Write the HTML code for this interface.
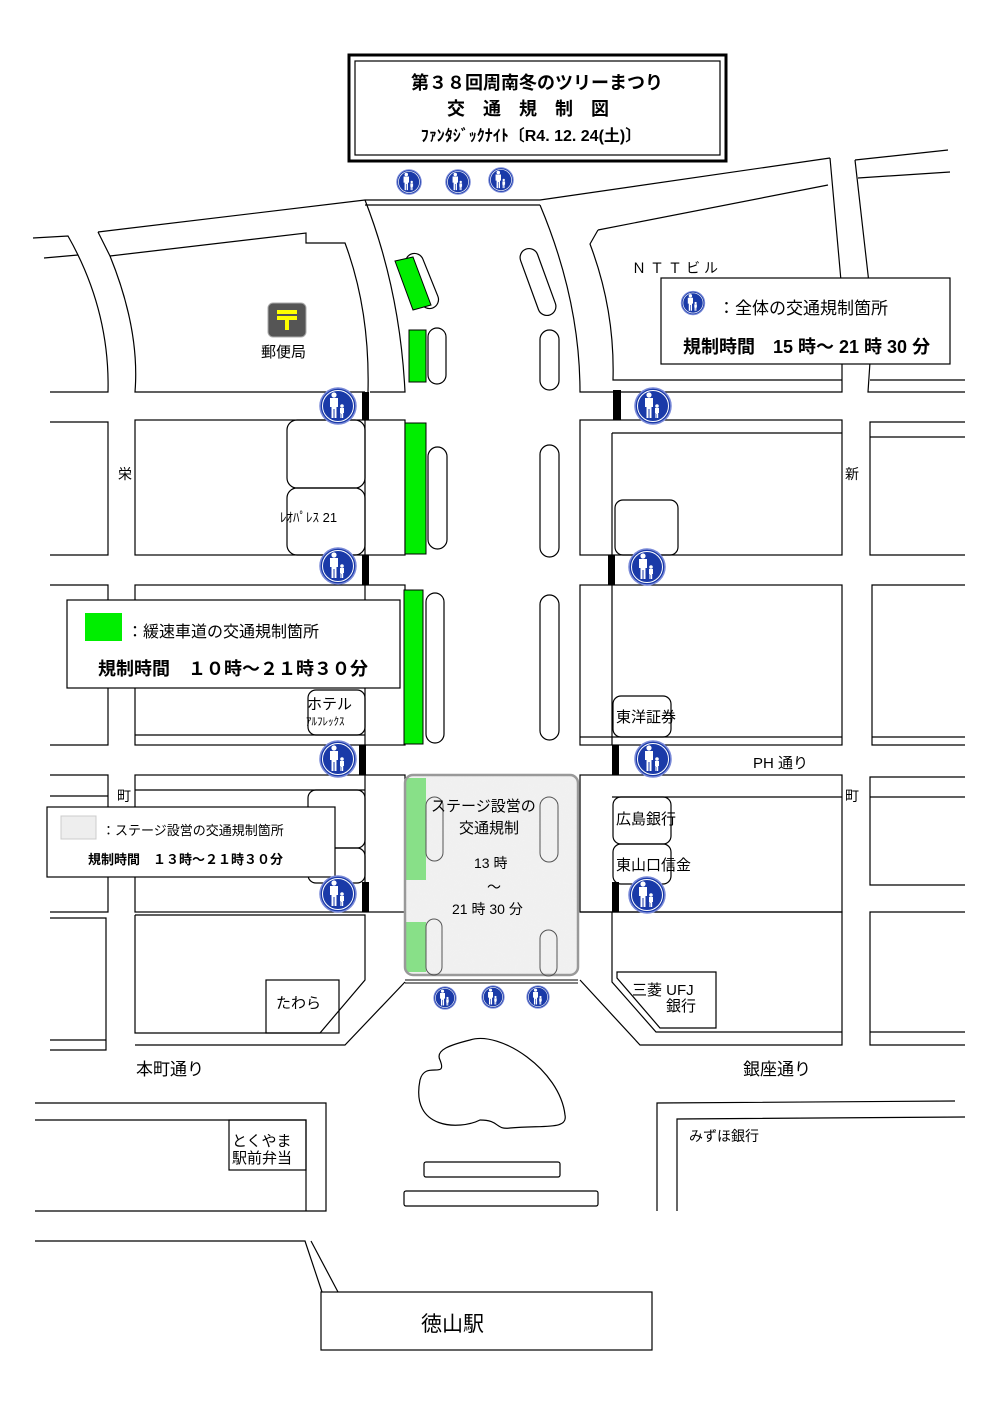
<!DOCTYPE html>
<html><head><meta charset="utf-8"><style>
html,body{margin:0;padding:0;background:#fff}
svg{display:block}
text{font-family:"Liberation Sans","Noto Sans CJK JP",sans-serif;fill:#000}
</style></head><body>
<svg width="1000" height="1415" viewBox="0 0 1000 1415" xmlns="http://www.w3.org/2000/svg">
<defs>
<g id="p">
<circle r="18" fill="#1a3aa8" stroke="#7a8ad8" stroke-width="1.5"/>
<circle r="15.5" fill="none" stroke="#fff" stroke-width="1"/>
<circle cx="-4" cy="-11" r="2.6" fill="#fff"/>
<path d="M-8,-8 h8 v9 h-1.5 v11 h-2 v-9 h-1 v9 h-2 v-11 h-1.5z" fill="#fff"/>
<circle cx="4" cy="0" r="1.8" fill="#fff"/>
<path d="M2,2 h4 v5 h-0.8 v5 h-1.2 v-4 h-0.4 v4 h-1.2 v-5 h-0.4z" fill="#fff"/>
</g>
<filter id="n" x="0" y="0" width="1" height="1"><feTurbulence baseFrequency="0.9" numOctaves="2" seed="3"/><feColorMatrix values="0 0 0 0 0.88 0 0 0 0 0.88 0 0 0 0 0.88 0 0 0 -1.2 1.2"/></filter>
<clipPath id="sc"><rect x="405" y="775" width="173" height="200" rx="8"/></clipPath>
</defs>
<g fill="none" stroke="#000" stroke-width="1.2">
<rect x="349" y="55" width="377" height="106" stroke-width="3"/>
<rect x="355" y="61" width="365" height="94"/>
<path d="M98,232 L365,200 L540,200 L830,158"/>
<path d="M365,205 L540,205"/>
<path d="M855,160 L948,150 M858,178 L950,172"/>
<path d="M33,238 L68,236 Q110,310 108,392 L50,392"/>
<path d="M44,258 L78,255"/>
<path d="M98,232 L110,256 Q140,330 135,392 L365,392"/>
<path d="M110,256 L306,233 L306,243 L345,243 Q370,310 368,392"/>
<path d="M365,200 Q400,290 405,392 L405,392 L370,392"/>
<path d="M540,205 Q580,300 580,392 L610,392"/>
<path d="M830,158 L842,292 M855,160 L870,292 M870,362 L868,392 L965,392 M842,362 L842,392 L610,392"/>
<path d="M598,230 L590,244 Q615,310 613,380 L842,380"/>
<path d="M598,230 L828,185"/>
<path d="M870,380 L965,380"/>
<path d="M50,422 L108,422 L108,555 L50,555 M50,585 L108,585 L108,745 L50,745 M50,775 L108,775 L108,912 L50,912 M50,918 L106,918 L106,1050 L50,1050 M50,796 L108,796 M50,1040 L106,1040"/>
<rect x="135" y="420" width="270" height="135"/>
<rect x="135" y="585" width="270" height="160"/>
<rect x="135" y="775" width="270" height="137"/>
<path d="M365,420 L365,555 M365,585 L365,745 M365,775 L365,912"/>
<path d="M135,790 L365,790"/>
<path d="M135,735 L365,735"/>
<path d="M135,915 L365,915 L365,980 L320,1033 L135,1033 L135,915"/>
<path d="M135,1045 L345,1045 L405,982"/>
<rect x="287" y="420" width="78" height="68" rx="10"/>
<rect x="287" y="488" width="78" height="67" rx="10"/>
<rect x="308" y="790" width="57" height="58" rx="8"/>
<rect x="308" y="848" width="57" height="35" rx="8"/>
<rect x="308" y="690" width="57" height="45" rx="8"/>
<rect x="266" y="980" width="73" height="53"/>
<rect x="580" y="420" width="262" height="135"/>
<path d="M612,433 L842,433 M612,433 L612,555"/>
<rect x="580" y="585" width="262" height="160"/>
<path d="M612,585 L612,745 M580,737 L842,737"/>
<rect x="580" y="775" width="262" height="137"/>
<path d="M612,797 L842,797"/>
<path d="M580,912 L842,912 L842,1045 L640,1045 L580,980"/>
<path d="M612,912 L612,982 L656,1032 L842,1032"/>
<rect x="615" y="500" width="63" height="55" rx="8"/>
<rect x="613" y="696" width="58" height="41" rx="8"/>
<rect x="613" y="797" width="58" height="47" rx="8"/>
<rect x="613" y="844" width="58" height="40" rx="8"/>
<path d="M617,972 L716,972 L716,1028 L660,1028 L617,978z"/>
<path d="M965,422 L870,422 L870,555 L965,555 M965,437 L870,437 M965,585 L872,585 L872,745 L965,745 M965,737 L872,737 M965,777 L870,777 L870,885 L965,885 M965,797 L870,797 M965,912 L870,912 L870,1045 L965,1045 M965,1032 L870,1032"/>
<rect x="413" y="252" width="18" height="58" rx="9" transform="rotate(-22 422 281)"/>
<rect x="428" y="328" width="18" height="56" rx="9"/>
<rect x="428" y="447" width="19" height="102" rx="9.5"/>
<rect x="426" y="593" width="18" height="150" rx="9"/>
<rect x="529" y="247" width="18" height="70" rx="9" transform="rotate(-20 538 282)"/>
<rect x="540" y="330" width="19" height="60" rx="9.5"/>
<rect x="540" y="445" width="19" height="112" rx="9.5"/>
<rect x="540" y="595" width="19" height="145" rx="9.5"/>
<path d="M470,1040 C500,1030 560,1070 565,1115 C568,1130 545,1125 510,1128 C495,1130 500,1120 480,1120 C460,1130 410,1130 420,1080 C425,1060 448,1080 440,1060 C435,1050 450,1045 470,1040z"/>
<rect x="424" y="1162" width="136" height="15" rx="2"/>
<rect x="404" y="1191" width="194" height="15" rx="2"/>
<path d="M35,1103 L326,1103 L326,1211 L35,1211"/>
<path d="M35,1120 L306,1120 L306,1211"/>
<rect x="229" y="1120" width="77" height="50"/>
<path d="M35,1241 L305,1241 L322,1292 M311,1241 L338,1292"/>
<rect x="321" y="1292" width="331" height="58"/>
<path d="M657,1211 L657,1103 L955,1101 M677,1211 L677,1119 L965,1117"/>
</g>
<g fill="#00ee00" stroke="#000" stroke-width="1">
<polygon points="395,261 413,257 431,305 413,310"/>
<rect x="409" y="330" width="17" height="52"/>
<rect x="405" y="423" width="21" height="131"/>
<rect x="404" y="590" width="19" height="154"/>
</g>
<!-- legends boxes first -->
<rect x="661" y="278" width="289" height="86" fill="#fff" stroke="#000" stroke-width="1.2"/>
<rect x="67" y="600" width="333" height="88" fill="#fff" stroke="#000" stroke-width="1.2"/>
<rect x="85" y="613" width="37" height="28" fill="#00ee00"/>
<rect x="47" y="807" width="288" height="70" fill="#fff" stroke="#000" stroke-width="1.2"/>
<rect x="61" y="816" width="35" height="23" fill="#eee" stroke="#ccc"/>
<!-- stage -->
<rect x="405" y="775" width="173" height="200" rx="8" fill="#f0f0f0"/>
<g clip-path="url(#sc)"><rect x="405" y="775" width="173" height="200" filter="url(#n)" opacity="0.6"/></g>
<rect x="406" y="778" width="20" height="102" fill="#88e088"/>
<rect x="406" y="922" width="20" height="50" fill="#88e088"/>
<rect x="405" y="775" width="173" height="200" rx="8" fill="none" stroke="#999" stroke-width="2.5"/>
<g fill="none" stroke="#555" stroke-width="1">
<rect x="426" y="797" width="17" height="64" rx="8.5"/>
<rect x="540" y="797" width="18" height="65" rx="9"/>
<rect x="426" y="919" width="16" height="56" rx="8"/>
<rect x="540" y="930" width="17" height="46" rx="8.5"/>
</g>
<path d="M405,980 L578,980 M405,983 L578,983" stroke="#000" stroke-width="1"/>
<g fill="#000">
<rect x="362" y="392" width="7" height="28"/>
<rect x="362" y="555" width="7" height="30"/>
<rect x="359" y="745" width="7" height="30"/>
<rect x="362" y="882" width="7" height="30"/>
<rect x="613" y="390" width="8" height="30"/>
<rect x="608" y="555" width="7" height="30"/>
<rect x="612" y="745" width="7" height="30"/>
<rect x="612" y="882" width="7" height="30"/>
</g>
<use href="#p" x="338" y="406"/>
<use href="#p" x="338" y="566"/>
<use href="#p" x="338" y="759"/>
<use href="#p" x="338" y="894"/>
<use href="#p" x="653" y="406"/>
<use href="#p" x="647" y="567"/>
<use href="#p" x="653" y="759"/>
<use href="#p" x="647" y="895"/>
<use href="#p" transform="translate(409,182) scale(0.68)"/>
<use href="#p" transform="translate(458,182) scale(0.68)"/>
<use href="#p" transform="translate(501,180) scale(0.68)"/>
<use href="#p" transform="translate(445,998) scale(0.62)"/>
<use href="#p" transform="translate(493,997) scale(0.62)"/>
<use href="#p" transform="translate(538,997) scale(0.62)"/>
<use href="#p" transform="translate(693,303) scale(0.65)"/>
<rect x="268" y="303" width="38" height="34" rx="5" fill="#555" stroke="#aaa"/>
<path d="M277,312 h20 M277,318 h20 M287,318 v12" stroke="#ff0" stroke-width="4" fill="none"/>
<g font-size="18" font-weight="bold" text-anchor="middle">
<text x="537" y="89">第３８回周南冬のツリーまつり</text>
<text x="537" y="115" letter-spacing="18">交通規制図</text>
<text x="531" y="141" font-size="16">ﾌｧﾝﾀｼﾞｯｸﾅｲﾄ〔R4. 12. 24(土)〕</text>
</g>
<g font-size="15">
<text x="632" y="273" letter-spacing="4" font-size="14">ＮＴＴビル</text>
<text x="718" y="314" font-size="17">：全体の交通規制箇所</text>
<text x="683" y="353" font-size="18" font-weight="bold">規制時間　15 時～ 21 時 30 分</text>
<text x="261" y="357" font-size="15">郵便局</text>
<text x="118" y="479" font-size="14">栄</text>
<text x="845" y="479" font-size="14">新</text>
<text x="280" y="522" font-size="13">ﾚｵﾊﾟﾚｽ 21</text>
<text x="127" y="637" font-size="16">：緩速車道の交通規制箇所</text>
<text x="98" y="675" font-size="18" font-weight="bold">規制時間　１０時～２１時３０分</text>
<text x="307" y="709" font-size="15">ホテル</text>
<text x="306" y="725" font-size="11">ｱﾙﾌﾚｯｸｽ</text>
<text x="616" y="722" font-size="15">東洋証券</text>
<text x="753" y="768" font-size="15">PH 通り</text>
<text x="117" y="801" font-size="14">町</text>
<text x="845" y="801" font-size="14">町</text>
<text x="102" y="835" font-size="13">：ステージ設営の交通規制箇所</text>
<text x="88" y="864" font-size="13" font-weight="bold">規制時間　１３時～２１時３０分</text>
<text x="616" y="824" font-size="15">広島銀行</text>
<text x="616" y="870" font-size="15">東山口信金</text>
<text x="431" y="811" font-size="15">ステージ設営の</text>
<text x="459" y="833" font-size="15">交通規制</text>
<text x="474" y="868" font-size="14">13 時</text>
<text x="487" y="892" font-size="14">〜</text>
<text x="452" y="914" font-size="14">21 時 30 分</text>
<text x="276" y="1008" font-size="15">たわら</text>
<text x="632" y="995" font-size="15">三菱 UFJ</text>
<text x="666" y="1011" font-size="15">銀行</text>
<text x="136" y="1075" font-size="17">本町通り</text>
<text x="743" y="1075" font-size="17">銀座通り</text>
<text x="232" y="1146" font-size="15">とくやま</text>
<text x="232" y="1163" font-size="15">駅前弁当</text>
<text x="689" y="1141" font-size="14">みずほ銀行</text>
<text x="421" y="1331" font-size="21">徳山駅</text>
</g>
</svg>
</body></html>
